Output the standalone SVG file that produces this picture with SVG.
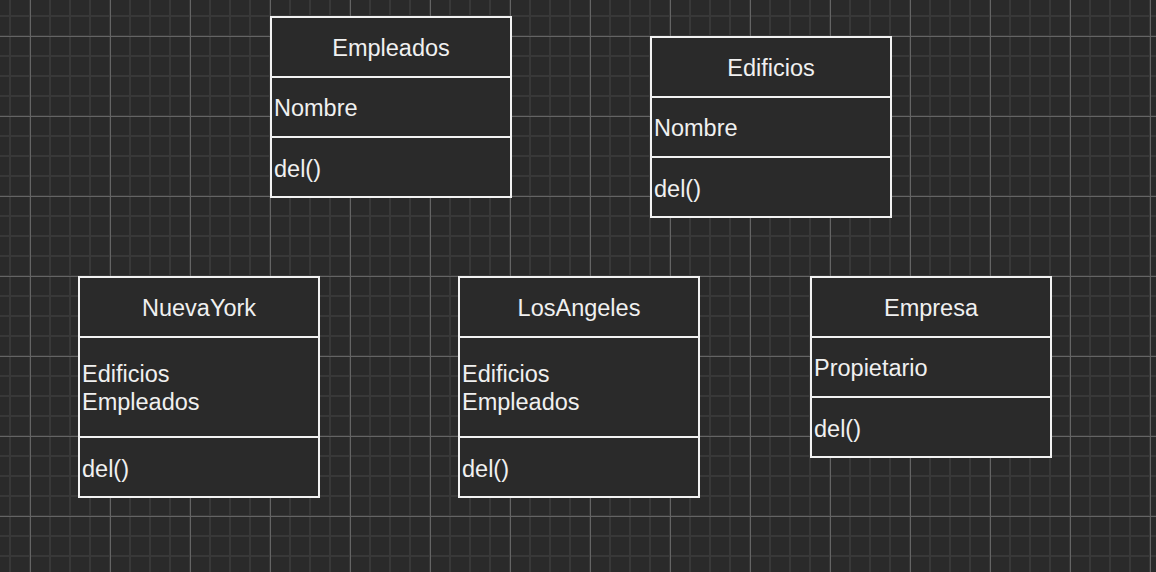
<svg xmlns="http://www.w3.org/2000/svg" width="1156" height="572" viewBox="0 0 1156 572">
<style>
.box{fill:#2a2a2a;stroke:#f2f2f2;stroke-width:2}
.sep{stroke:#f2f2f2;stroke-width:2}
text{font-family:"Liberation Sans",Helvetica,Arial,sans-serif;font-size:23.5px;fill:#f0f0f0}
.t{text-anchor:middle}
</style>
<defs>
<pattern id="minor" patternUnits="userSpaceOnUse" x="0" y="0" width="20" height="20">
<path d="M10 0V20M0 16H20" stroke="#383838" stroke-width="2" fill="none"/>
</pattern>
<pattern id="major" patternUnits="userSpaceOnUse" x="0" y="0" width="80" height="80">
<path d="M30.5 0V80M0 36.5H80" stroke="#646464" stroke-width="1" fill="none"/>
</pattern>
</defs>
<rect width="1156" height="572" fill="#2a2a2a"/>
<rect width="1156" height="572" fill="url(#minor)"/>
<rect width="1156" height="572" fill="url(#major)"/>
<g id="connectors"></g>
<g id="Empleados">
<rect class="box" x="271" y="17" width="240" height="180"/>
<line class="sep" x1="271" y1="77" x2="511" y2="77"/>
<line class="sep" x1="271" y1="137" x2="511" y2="137"/>
<text class="t" x="391" y="56">Empleados</text>
<text x="274" y="116">Nombre</text>
<text x="274" y="176.5">del()</text>
</g>
<g id="Edificios">
<rect class="box" x="651" y="37" width="240" height="180"/>
<line class="sep" x1="651" y1="97" x2="891" y2="97"/>
<line class="sep" x1="651" y1="157" x2="891" y2="157"/>
<text class="t" x="771" y="76">Edificios</text>
<text x="654" y="136">Nombre</text>
<text x="654" y="196.5">del()</text>
</g>
<g id="NuevaYork">
<rect class="box" x="79" y="277" width="240" height="220"/>
<line class="sep" x1="79" y1="337" x2="319" y2="337"/>
<line class="sep" x1="79" y1="437" x2="319" y2="437"/>
<text class="t" x="199" y="316">NuevaYork</text>
<text x="82" y="382">Edificios</text>
<text x="82" y="410">Empleados</text>
<text x="82" y="476.5">del()</text>
</g>
<g id="LosAngeles">
<rect class="box" x="459" y="277" width="240" height="220"/>
<line class="sep" x1="459" y1="337" x2="699" y2="337"/>
<line class="sep" x1="459" y1="437" x2="699" y2="437"/>
<text class="t" x="579" y="316">LosAngeles</text>
<text x="462" y="382">Edificios</text>
<text x="462" y="410">Empleados</text>
<text x="462" y="476.5">del()</text>
</g>
<g id="Empresa">
<rect class="box" x="811" y="277" width="240" height="180"/>
<line class="sep" x1="811" y1="337" x2="1051" y2="337"/>
<line class="sep" x1="811" y1="397" x2="1051" y2="397"/>
<text class="t" x="931" y="316">Empresa</text>
<text x="814" y="376">Propietario</text>
<text x="814" y="436.5">del()</text>
</g>
</svg>
